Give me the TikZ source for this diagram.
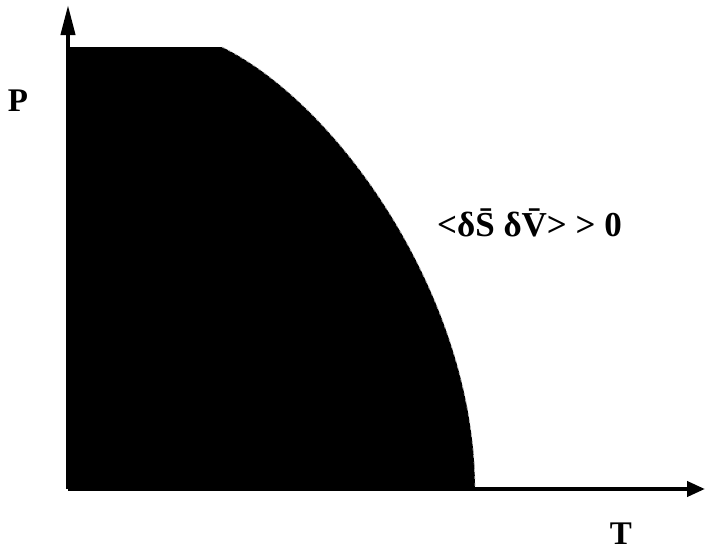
\documentclass[tikz,border=0pt]{standalone}
\usepackage{fontspec}
\setmainfont{Liberation Serif}
\usetikzlibrary{arrows.meta}
\begin{document}
\begin{tikzpicture}[x=1pt,y=-1pt,
  axis/.style={line width=4pt},
  lbl/.style={font=\fontsize{33}{36}\selectfont\bfseries, inner sep=0pt},
  formula/.style={font=\fontsize{35}{38}\selectfont\bfseries, inner sep=0pt}]
\useasboundingbox (0,0) rectangle (705,552);
\coordinate (O) at (68,489);
\coordinate (Ytip) at (68,5);
\coordinate (Xtip) at (705,489);
\coordinate (A) at (68,47);
\coordinate (B) at (222,47);
\coordinate (C) at (475,489);
\fill[black] (O) -- (A) -- (B) .. controls (340,105) and (475,300) .. (C) -- cycle;
\draw[gray!60, line width=0.8pt, dashed, dash pattern=on 3pt off 4pt] (B) .. controls (340,105) and (475,300) .. (C);
\draw[axis, -{Triangle[length=30pt,width=14pt]}] (O) -- (Ytip);
\draw[axis, -{Triangle[length=18pt,width=15pt]}] (O) -- (Xtip);
\node[lbl] (P) at (18,101) {P};
\node[lbl] (T) at (621,534) {T};
\node[formula, anchor=base west] (R) at (437,236) {<δ\=S δ\=V> > 0};
\end{tikzpicture}
\end{document}
